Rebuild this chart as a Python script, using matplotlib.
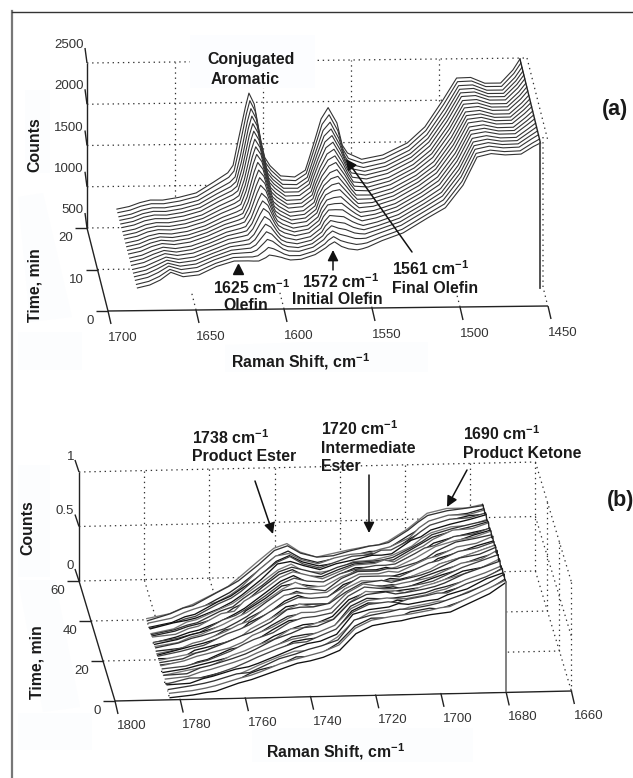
import numpy as np
import matplotlib
matplotlib.use("Agg")
import matplotlib.pyplot as plt

plt.rcParams['font.family'] = ['Liberation Sans']
plt.rcParams['mathtext.fontset'] = 'custom'
plt.rcParams['mathtext.rm'] = 'Liberation Sans:bold'
plt.rcParams['mathtext.bf'] = 'Liberation Sans:bold'
plt.rcParams['mathtext.default'] = 'rm'

# panel (a) values
shift_a = [1683,1676,1670,1664,1657,1648,1638,1628,1620,1617,1614,1610,1608,1605,1601,1599,1596,1590,1582,
           1576,1574,1571,1567,1563,1558,1555,1552,1544,1532,1518,1508,1498,1490,1482,1474,1465,1458,1454]
time_a = [0.5,1.4,2.4,3.3,4.2,5.1,6.1,7,7.9,8.9,9.8,10.7,11.6,12.6,13.5,14.4,15.4,16.3,17.2,18.1,19.1,20]
# one row per raman shift, one column per time
counts_a = [
 [750,748,747,745,744,743,742,741,740,739,738,737,736,735,734,733,732,731,730,728,727,725],
 [784,783,781,780,778,777,775,774,773,771,770,769,767,766,765,763,762,760,759,758,756,755],
 [843,841,839,837,835,833,831,829,827,825,823,821,819,817,815,813,811,809,807,805,802,800],
 [935,925,915,905,896,888,880,873,867,861,856,851,847,843,840,838,836,835,834,832,831,830],
 [880,875,871,867,863,859,856,852,849,847,844,842,840,838,836,835,834,832,831,830,829,828],
 [900,897,894,891,888,885,882,880,877,875,873,871,869,867,866,865,863,862,861,860,859,858],
 [1000,992,985,978,972,966,960,955,950,946,942,938,934,931,928,925,922,919,917,915,912,910],
 [1063,1060,1056,1053,1050,1047,1044,1042,1040,1038,1036,1035,1034,1033,1033,1034,1034,1035,1036,1037,1039,1040],
 [1063,1065,1067,1070,1072,1075,1078,1081,1084,1087,1090,1094,1098,1102,1106,1110,1114,1118,1123,1130,1140,1150],
 [1060,1065,1070,1076,1082,1088,1094,1100,1106,1112,1118,1124,1130,1138,1146,1154,1163,1172,1182,1194,1216,1240],
 [1060,1078,1096,1114,1132,1150,1168,1186,1205,1224,1243,1262,1282,1302,1323,1345,1368,1392,1418,1450,1497,1550],
 [1100,1140,1180,1220,1260,1300,1340,1380,1421,1461,1501,1542,1583,1624,1665,1706,1747,1786,1826,1866,1905,1945],
 [1131,1178,1225,1272,1319,1366,1413,1460,1507,1554,1601,1648,1695,1742,1789,1836,1883,1929,1975,2021,2067,2113],
 [1120,1160,1201,1242,1283,1324,1365,1406,1447,1488,1529,1570,1611,1652,1693,1734,1775,1816,1857,1898,1939,1980],
 [1100,1118,1136,1154,1172,1190,1208,1226,1245,1264,1283,1302,1321,1340,1359,1378,1397,1416,1435,1456,1483,1510],
 [1085,1095,1105,1116,1127,1138,1149,1160,1171,1182,1193,1204,1215,1226,1237,1248,1259,1270,1281,1293,1311,1330],
 [1068,1075,1082,1090,1098,1106,1114,1122,1130,1138,1146,1153,1160,1167,1174,1181,1188,1195,1202,1209,1220,1230],
 [1075,1075,1076,1076,1077,1078,1079,1080,1081,1082,1083,1084,1085,1087,1088,1090,1092,1094,1096,1098,1101,1105],
 [1130,1127,1124,1121,1118,1116,1114,1112,1110,1108,1106,1105,1104,1102,1100,1098,1097,1096,1094,1093,1091,1090],
 [1210,1212,1214,1215,1216,1216,1215,1214,1213,1211,1208,1205,1202,1199,1196,1193,1190,1187,1183,1179,1175,1170],
 [1245,1256,1267,1278,1289,1298,1306,1313,1318,1322,1326,1328,1329,1328,1326,1323,1320,1316,1312,1308,1304,1300],
 [1282,1300,1318,1336,1354,1370,1386,1402,1416,1428,1440,1450,1460,1468,1476,1482,1488,1492,1496,1499,1502,1505],
 [1225,1251,1278,1305,1333,1361,1389,1417,1445,1474,1503,1532,1561,1590,1618,1646,1672,1697,1722,1746,1769,1790],
 [1195,1225,1256,1288,1320,1353,1386,1420,1455,1490,1525,1561,1597,1633,1668,1703,1738,1773,1808,1845,1885,1926],
 [1181,1202,1224,1246,1268,1291,1314,1337,1360,1384,1408,1432,1457,1482,1507,1533,1559,1586,1613,1645,1690,1739],
 [1195,1208,1222,1236,1250,1264,1278,1292,1306,1320,1334,1348,1362,1376,1390,1404,1418,1432,1440,1448,1460,1470],
 [1215,1220,1226,1232,1238,1244,1250,1256,1262,1268,1274,1280,1286,1292,1298,1304,1311,1318,1326,1335,1353,1373],
 [1290,1289,1288,1287,1286,1285,1285,1284,1284,1284,1284,1284,1285,1285,1286,1287,1288,1289,1290,1291,1293,1295],
 [1381,1379,1377,1375,1373,1371,1369,1367,1365,1363,1361,1360,1358,1357,1355,1353,1352,1350,1349,1347,1346,1344],
 [1560,1556,1552,1549,1545,1542,1538,1535,1531,1528,1524,1521,1517,1514,1510,1507,1503,1500,1497,1494,1490,1487],
 [1680,1680,1679,1681,1680,1680,1679,1680,1681,1680,1680,1679,1680,1680,1681,1680,1679,1680,1680,1681,1680,1680],
 [1950,1952,1954,1956,1958,1960,1962,1964,1966,1968,1970,1972,1974,1976,1978,1980,1982,1984,1986,1989,1992,1995],
 [2290,2289,2288,2287,2286,2285,2284,2283,2282,2281,2280,2279,2278,2277,2276,2275,2274,2273,2271,2270,2268,2267],
 [2330,2327,2324,2322,2319,2316,2313,2310,2307,2304,2301,2298,2295,2292,2289,2286,2284,2282,2280,2277,2274,2272],
 [2312,2307,2302,2297,2292,2287,2282,2276,2270,2264,2259,2254,2248,2243,2238,2232,2227,2222,2216,2211,2205,2200],
 [2320,2314,2309,2303,2297,2291,2285,2279,2273,2268,2262,2256,2250,2245,2239,2233,2227,2222,2216,2211,2205,2200],
 [2410,2407,2405,2402,2400,2397,2395,2392,2390,2387,2385,2382,2380,2377,2375,2372,2370,2367,2365,2362,2360,2357],
 [2452,2454,2456,2457,2459,2461,2462,2464,2466,2467,2469,2471,2472,2474,2476,2477,2479,2481,2482,2484,2486,2489],
]
xticks_a = [1700,1650,1600,1550,1500,1450]
tticks_a = [0,10,20]
zticks_a = [500,1000,1500,2000,2500]

# panel (b) values
shift_b = [1783,1776,1772,1769,1762,1758,1755,1749,1744,1740,1736,1731,1726,1721,1715,1712,1709,1703,1700,1697,1691,1685,1680]
time_b = [0.5,1.5,2.5,3.5,4.5,5.5,6.5,7.5,8.5,9.5,10.5,11.5,12.5,13.5,14.5,15.5,16.5,17.5,18.5,19.5,
          20.5,21.5,22.5,23.5,24.5,25.5,26.5,27.5,28.5,29.5,30.5,31.5,32.5,33.5,34.5,35.5,36.5,37.5,38.5,39.5]
counts_b = [
 [.01,.02,.00,.02,.01,.03,.01,.02,.03,.00,.02,.01,.03,.02,.00,.02,.03,.01,.02,.03,.01,.02,.00,.03,.02,.01,.03,.02,.01,.02,.03,.01,.02,.03,.01,.02,.03,.02,.01,.02],
 [.03,.04,.02,.05,.03,.04,.06,.03,.05,.04,.03,.05,.06,.04,.03,.06,.05,.04,.06,.03,.05,.07,.04,.05,.06,.04,.07,.05,.06,.04,.07,.05,.06,.08,.05,.06,.07,.05,.07,.06],
 [.05,.06,.04,.07,.05,.08,.06,.07,.09,.06,.08,.07,.09,.07,.08,.10,.07,.09,.08,.10,.08,.10,.09,.07,.10,.09,.11,.08,.10,.09,.11,.09,.12,.10,.09,.11,.12,.10,.12,.11],
 [.06,.08,.07,.09,.07,.10,.08,.09,.11,.08,.10,.08,.11,.09,.10,.12,.09,.11,.10,.12,.10,.12,.11,.09,.12,.11,.13,.10,.12,.11,.13,.11,.14,.12,.11,.13,.15,.12,.14,.14],
 [.13,.14,.13,.15,.14,.16,.15,.14,.17,.15,.16,.18,.16,.17,.19,.17,.16,.19,.18,.17,.20,.18,.19,.21,.18,.20,.19,.21,.20,.22,.19,.21,.23,.20,.22,.24,.21,.23,.25,.24],
 [.16,.17,.19,.16,.19,.18,.20,.18,.21,.19,.20,.22,.20,.23,.21,.22,.21,.24,.22,.21,.24,.22,.25,.23,.24,.26,.23,.25,.26,.24,.27,.25,.28,.26,.27,.29,.27,.29,.31,.30],
 [.19,.20,.22,.20,.23,.21,.24,.22,.25,.23,.24,.26,.24,.27,.25,.28,.26,.27,.29,.27,.28,.30,.28,.31,.29,.30,.32,.30,.31,.33,.31,.32,.34,.32,.33,.35,.33,.35,.36,.37],
 [.25,.27,.26,.28,.30,.28,.31,.29,.32,.31,.33,.32,.34,.33,.36,.35,.37,.36,.38,.37,.39,.38,.41,.40,.42,.41,.43,.42,.44,.43,.46,.44,.47,.46,.48,.47,.50,.49,.50,.52],
 [.30,.31,.33,.32,.35,.34,.36,.38,.37,.39,.38,.41,.40,.42,.44,.43,.45,.47,.46,.48,.47,.49,.51,.50,.52,.51,.54,.53,.55,.54,.57,.56,.58,.60,.59,.60,.62,.61,.63,.64],
 [.32,.34,.33,.36,.35,.38,.37,.40,.39,.41,.43,.42,.44,.46,.45,.48,.47,.49,.51,.50,.52,.54,.53,.55,.54,.57,.56,.58,.60,.59,.61,.60,.63,.62,.64,.65,.64,.66,.67,.68],
 [.35,.37,.36,.39,.38,.40,.42,.41,.43,.42,.44,.46,.45,.47,.46,.48,.47,.49,.48,.50,.51,.50,.52,.51,.53,.52,.54,.55,.54,.56,.55,.57,.56,.58,.57,.59,.58,.59,.60,.60],
 [.41,.43,.45,.44,.47,.46,.48,.47,.49,.48,.50,.49,.51,.50,.49,.51,.50,.52,.51,.50,.52,.51,.53,.52,.51,.53,.52,.54,.53,.52,.54,.53,.55,.54,.53,.55,.54,.55,.56,.55],
 [.56,.58,.60,.62,.61,.64,.63,.65,.64,.66,.65,.64,.66,.65,.63,.65,.64,.62,.64,.63,.61,.63,.62,.60,.62,.61,.59,.61,.60,.58,.60,.59,.57,.59,.58,.57,.59,.58,.57,.58],
 [.63,.65,.67,.66,.69,.68,.70,.72,.71,.73,.72,.74,.72,.73,.71,.73,.72,.70,.71,.69,.70,.68,.69,.67,.68,.66,.67,.65,.66,.64,.65,.63,.64,.62,.63,.61,.62,.60,.61,.61],
 [.66,.68,.67,.69,.71,.70,.72,.71,.73,.72,.74,.72,.73,.71,.72,.70,.71,.72,.70,.69,.70,.68,.69,.67,.68,.66,.67,.68,.66,.65,.66,.64,.65,.66,.64,.65,.63,.64,.65,.64],
 [.67,.69,.68,.71,.70,.73,.71,.74,.72,.73,.72,.74,.73,.71,.73,.71,.72,.70,.71,.72,.70,.69,.71,.68,.70,.67,.69,.68,.66,.68,.67,.65,.67,.66,.68,.65,.66,.64,.66,.65],
 [.69,.70,.72,.71,.73,.72,.74,.73,.72,.74,.73,.72,.74,.72,.71,.73,.71,.72,.70,.71,.69,.71,.70,.68,.70,.69,.67,.69,.68,.66,.68,.67,.69,.67,.68,.66,.68,.67,.68,.68],
 [.72,.73,.75,.74,.76,.75,.77,.76,.75,.77,.76,.78,.76,.75,.77,.76,.78,.76,.77,.75,.77,.76,.78,.76,.75,.77,.76,.78,.77,.76,.78,.76,.77,.79,.77,.78,.76,.78,.79,.79],
 [.73,.75,.74,.76,.78,.76,.79,.77,.78,.80,.78,.80,.79,.77,.80,.78,.81,.79,.80,.78,.81,.79,.82,.80,.79,.82,.80,.83,.81,.80,.83,.81,.84,.82,.84,.83,.85,.83,.86,.86],
 [.74,.76,.77,.79,.78,.80,.79,.81,.80,.82,.81,.83,.82,.81,.83,.82,.84,.83,.85,.84,.83,.85,.84,.86,.85,.87,.86,.85,.87,.86,.88,.87,.89,.88,.90,.89,.91,.90,.92,.93],
 [.82,.84,.83,.85,.86,.85,.87,.86,.88,.87,.89,.88,.90,.89,.88,.90,.89,.91,.90,.89,.91,.90,.92,.91,.93,.92,.91,.93,.92,.94,.93,.92,.94,.93,.95,.94,.96,.95,.96,.97],
 [.90,.92,.91,.93,.92,.94,.93,.92,.94,.93,.95,.94,.93,.95,.94,.93,.95,.94,.96,.95,.94,.96,.95,.94,.96,.95,.97,.95,.96,.95,.97,.96,.95,.97,.96,.98,.96,.97,.98,.97],
 [1.0,.99,1.0,1.01,1.0,.99,1.0,1.01,1.0,.99,1.0,1.01,.99,1.0,1.0,1.01,.99,1.0,1.01,1.0,.99,1.0,1.01,1.0,.99,1.0,1.01,1.0,.99,1.0,1.01,.99,1.0,1.01,1.0,.99,1.0,1.01,1.0,1.0],
]
# level wobble of each spectrum in (b)
drift_b = [0,.012,-.008,.01,-.012,.006,.015,-.01,.004,-.014,.012,.003,-.009,.016,-.006,.008,-.013,.01,.002,-.011,
           .014,-.005,.009,-.015,.007,.012,-.008,.003,-.012,.015,-.004,.01,-.01,.006,.013,-.007,.004,-.012,.008,0]
xticks_b = [1800,1780,1760,1740,1720,1700,1680,1660]
tticks_b = [0,20,40,60]
zticks_b = [0,0.5,1]
zlabels_b = ['0','0.5','1']


# oblique view of each box, page pixels
def proj_a(w, t, z):
    w, t, z = np.asarray(w, float), np.asarray(t, float), np.asarray(z, float)
    return 108 + (1700 - w) * 1.76 - 1.05 * t, 311 - (1700 - w) * 0.02 - 4.15 * t - (z - 500) * 0.0825


def proj_b(w, t, z):
    w, t, z = np.asarray(w, float), np.asarray(t, float), np.asarray(z, float)
    return 115 + (1800 - w) * 3.26 - 0.6 * t, 701 - (1800 - w) * 0.0714 - 2.0 * t - z * 109


fig = plt.figure(figsize=(6.33, 7.78), dpi=100)
ax = fig.add_axes([0, 0, 1, 1])
ax.set_xlim(0, 633)
ax.set_ylim(778, 0)
ax.axis('off')

dot = dict(color='#333333', lw=0.9, linestyle=(0, (1.1, 3.0)), zorder=1)
axln = dict(color='#222222', lw=1.0, zorder=2, solid_capstyle='butt')
tickfont = dict(fontsize=9.5, color='#333333', ha='center', va='center', zorder=20)
bold = dict(fontweight='bold', fontsize=11.4, color='#1a1a1a', va='center', zorder=20)


def seg(proj, a, b, **kw):
    x, y = proj([a[0], b[0]], [a[1], b[1]], [a[2], b[2]])
    ax.plot(x, y, **kw)


# pale boxes behind the labels
pale = '#fcfdfe'
for poly in [[(25,90),(50,90),(50,173),(25,173)],
             [(18,197),(43,193),(72,317),(30,322)],
             [(18,332),(82,332),(82,370),(18,370)],
             [(225,345),(310,342),(428,342),(428,372),(225,372)],
             [(18,465),(50,465),(50,577),(18,577)],
             [(18,580),(55,580),(80,707),(43,712)],
             [(18,713),(92,713),(92,750),(18,750)],
             [(252,728),(473,728),(473,762),(252,762)]]:
    ax.fill(*zip(*poly), color=pale, lw=0, zorder=0)

# page frame
ax.plot([12, 12], [11, 778], color='#777777', lw=1.6, zorder=2)
ax.plot([12, 633], [11.5, 11.5], color='#333333', lw=1.0, zorder=2)


def draw_box(proj, xt, tt, zt, zlabels, dz_tick, x_off, full_wall):
    wl, wr = xt[0], xt[-1]
    t0, t1 = tt[0], tt[-1]
    z0, z1 = zt[0], zt[-1]
    # back wall and floor grid
    for z in zt:
        seg(proj, (wl, t1, z), (wr, t1, z), **dot)
    for w in xt[1:-1]:
        seg(proj, (w, t1, z0), (w, t1, z1), **dot)
        seg(proj, (w, t0, z0), (w, t1, z0), **dot)
    for t in tt[1:-1]:
        seg(proj, (wl, t, z0), (wr, t, z0), **dot)
    # right hand wall
    seg(proj, (wr, t1, z1), (wr, t0, z1), **dot)
    if full_wall:
        seg(proj, (wr, t0, z1), (wr, t0, z0), **dot)
        seg(proj, (wr, t1, z0), (wr, t1, z1), **dot)
        for z in zt[:-1]:
            seg(proj, (wr, t1, z), (wr, t0, z), **dot)
        for t in tt[1:-1]:
            seg(proj, (wr, t, z0), (wr, t, z1), **dot)
    # axis lines
    seg(proj, (wl, t1, z0), (wl, t1, z1), **axln)
    seg(proj, (wl, t0, z0), (wl, t1, z0), **axln)
    seg(proj, (wl, t0, z0), (wr, t0, z0), **axln)
    # ticks and tick labels
    for z, lab in zip(zt, zlabels):
        x, y = proj(wl, t1, z)
        ax.plot([x, x - dz_tick[0]], [y, y - dz_tick[1]], **axln)
        ax.text(x - dz_tick[0] - 1, y - dz_tick[1] - 3, lab, **{**tickfont, 'ha': 'right'})
    for t in tt:
        x, y = proj(wl, t, z0)
        ax.plot([x - 12, x], [y, y], **axln)
        ax.text(x - 14, y + 10, str(t), **{**tickfont, 'ha': 'right'})
    for w in xt:
        x, y = proj(w, t0, z0)
        ax.plot([x, x + 3], [y, y + 13], **axln)
        ax.text(x + x_off[0], y + x_off[1], str(w), **tickfont)


def waterfall(proj, shift, times, vals, base, edge, shades, lw):
    n = len(times)
    ends = []
    for i in range(n - 1, -1, -1):
        x, y = proj(shift, times[i], vals[i])
        xb, yb = proj(shift, times[i], base)
        zo = 3 + (n - i) * 0.1
        ax.fill(np.r_[x, xb[::-1]], np.r_[y, yb[::-1]], color='white', lw=0, zorder=zo)
        ax.plot(x, y, color=shades[i % len(shades)], lw=lw, zorder=zo + 0.05)
        ends.append((x[-1], y[-1]))
    ends = np.array(ends)
    ax.plot(ends[:, 0], ends[:, 1], color='#222222', lw=1.0, zorder=12)
    ax.plot([xb[-1], xb[-1]], [y[-1], yb[-1]], color=edge, lw=1.3, zorder=12)


def arrow(tail, head):
    ax.annotate('', xy=head, xytext=tail, zorder=21,
                arrowprops=dict(arrowstyle='-|>', color='#111111', lw=1.1, mutation_scale=16, shrinkA=0, shrinkB=0))


# panel (a)
draw_box(proj_a, xticks_a, tticks_a, zticks_a, [str(z) for z in zticks_a], (2, 15), (15, 27), False)
ax.plot([543, 543, 547], [137, 287, 303], **dot)
waterfall(proj_a, shift_a, time_a, np.array(counts_a).T, 696, '#444444', ['#333333'], 0.8)
ax.fill([190, 315, 315, 190], [35, 35, 88, 88], color='#fcfdff', lw=0, zorder=2.5)

ax.text(251, 59, 'Conjugated', ha='center', **bold)
ax.text(245, 79, 'Aromatic', ha='center', **bold)
ax.text(213, 288, '1625 cm$^{-1}$', ha='left', **bold)
ax.text(223, 305, 'Olefin', ha='left', **bold)
ax.text(302, 282, '1572 cm$^{-1}$', ha='left', **bold)
ax.text(292, 299, 'Initial Olefin', ha='left', **bold)
ax.text(392, 269, '1561 cm$^{-1}$', ha='left', **bold)
ax.text(392, 288, 'Final Olefin', ha='left', **bold)
ax.plot([238], [269], marker='^', ms=7, color='#111111', lw=0, zorder=21)
arrow((333, 270), (333, 250))
arrow((412, 252), (346, 159))
ax.text(602, 109, '(a)', fontweight='bold', fontsize=15.5, color='#1a1a1a', ha='left', va='center', zorder=20)
ax.text(35, 145, 'Counts', rotation=90, ha='center', **bold)
ax.text(35, 285, 'Time, min', rotation=90, ha='center', **bold)
ax.text(300, 362, 'Raman Shift, cm$^{-1}$', ha='center', **bold)

# panel (b)
draw_box(proj_b, xticks_b, tticks_b, zticks_b, zlabels_b, (4, 12), (17, 25), True)
vals_b = np.array(counts_b).T + np.array(drift_b)[:, None]
waterfall(proj_b, shift_b, time_b, vals_b, 0, '#777777', ['#111111', '#666666', '#222222', '#333333', '#777777', '#111111', '#444444'], 0.95)

ax.text(192, 438, '1738 cm$^{-1}$', ha='left', **bold)
ax.text(192, 456, 'Product Ester', ha='left', **bold)
ax.text(321, 429, '1720 cm$^{-1}$', ha='left', **bold)
ax.text(321, 448, 'Intermediate', ha='left', **bold)
ax.text(321, 466, 'Ester', ha='left', **bold)
ax.text(463, 434, '1690 cm$^{-1}$', ha='left', **bold)
ax.text(463, 453, 'Product Ketone', ha='left', **bold)
arrow((255, 481), (273, 534))
arrow((369, 475), (369, 533))
arrow((467, 470), (447, 507))
ax.text(607, 500, '(b)', fontweight='bold', fontsize=15.5, color='#1a1a1a', ha='left', va='center', zorder=20)
ax.text(28, 528, 'Counts', rotation=90, ha='center', **bold)
ax.text(37, 662, 'Time, min', rotation=90, ha='center', **bold)
ax.text(335, 752, 'Raman Shift, cm$^{-1}$', ha='center', **bold)

fig.savefig('out.png', dpi=100)
